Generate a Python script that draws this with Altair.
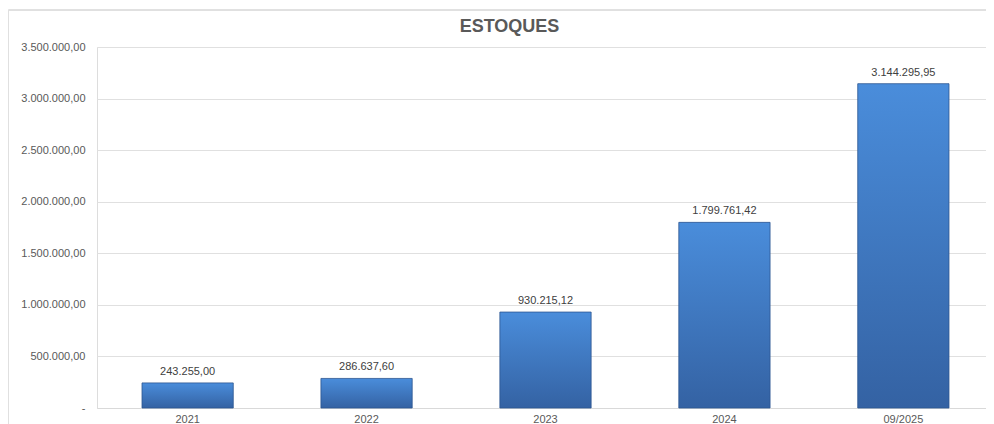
import altair as alt
import pandas as pd

categories = ["2021", "2022", "2023", "2024", "09/2025"]
values = [243255.00, 286637.60, 930215.12, 1799761.42, 3144295.95]
y_ticks = [0, 500000, 1000000, 1500000, 2000000, 2500000, 3000000, 3500000]

df = pd.DataFrame({"periodo": categories, "valor": values})

gradient = alt.LinearGradient(
    gradient="linear", x1=0, y1=0, x2=0, y2=1,
    stops=[alt.GradientStop(offset=0, color="#4a8ddb"),
           alt.GradientStop(offset=1, color="#3462a3")],
)

x_enc = alt.X("periodo:N", sort=categories, title=None,
              scale=alt.Scale(paddingInner=0.49, paddingOuter=0.2515, range=[0, 897]),
              axis=alt.Axis(labelAngle=0, ticks=False, domain=True, domainColor="#d9d9d9",
                            labelFont="Liberation Sans", labelFontSize=11,
                            labelColor="#595959", labelPadding=5))
y_enc = alt.Y("valor:Q", title=None,
              scale=alt.Scale(domain=[0, 3500000], nice=False),
              axis=alt.Axis(values=y_ticks, ticks=False, domain=False,
                            gridColor="#e0e0e0", format=",.2f",
                            labelExpr="datum.value == 0 ? '-' : datum.label",
                            labelFont="Liberation Sans", labelFontSize=11,
                            labelColor="#595959", labelPadding=12))

bars = alt.Chart(df).mark_bar(color=gradient, stroke="#2c5590", strokeWidth=0.8).encode(
    x=x_enc, y=y_enc)

labels = alt.Chart(df).mark_text(baseline="bottom", dy=-6, font="Liberation Sans",
                                 fontSize=11, color="#404040").encode(
    x=alt.X("periodo:N", sort=categories),
    y=alt.Y("valor:Q"),
    text=alt.Text("valor:Q", format=",.2f"))

border = alt.Chart(df).mark_rule(color="#e0e0e0", strokeWidth=1).encode(
    x=alt.value(-88.5), x2=alt.value(900), y=alt.value(-37))
border_left = alt.Chart(df).mark_rule(color="#e0e0e0", strokeWidth=1).encode(
    x=alt.value(-88.5), y=alt.value(-37), y2=alt.value(380))

chart = alt.layer(border, border_left, bars, labels).properties(
    width=889, height=361,
    autosize=alt.AutoSizeParams(type="none"),
    padding={"left": 89, "top": 39, "right": 0, "bottom": 16},
    title=alt.TitleParams("ESTOQUES", font="Liberation Sans", fontSize=18, fontWeight="bold",
                          color="#595959", dx=-32, offset=-26),
).configure_view(stroke=None).configure(
    locale={"number": {"decimal": ",", "thousands": ".", "grouping": [3], "currency": ["R$", ""]}}
)

chart.save("out.html", embed_options={"renderer": "svg", "actions": False})
